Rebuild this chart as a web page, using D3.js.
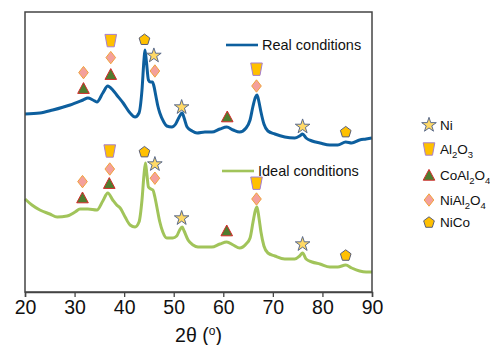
<!DOCTYPE html>
<html>
<head>
<meta charset="utf-8">
<script src="https://cdn.jsdelivr.net/npm/d3@7"></script>
<style>
  body { margin: 0; background: #fff; }
  svg { display: block; font-family: "Liberation Sans", Arial, sans-serif; }
</style>
</head>
<body>
<div id="chart"></div>
<script>
// XRD patterns, intensity in a.u.
const realPattern = [
  [20.0, 890], [23.0, 895], [25.6, 910], [29.1, 935], [31.7, 960], [32.7, 970],
  [33.7, 960], [34.5, 950], [35.7, 995], [36.7, 1030], [37.7, 1010], [38.5, 985],
  [39.8, 945], [41.2, 895], [42.2, 875], [43.0, 895], [43.6, 1010], [44.0, 1160],
  [44.2, 1210], [44.5, 1150], [44.9, 1060], [45.3, 1050], [45.7, 1050], [46.0, 1030],
  [46.4, 980], [46.8, 930], [47.2, 895], [48.0, 850], [48.6, 830], [49.6, 825],
  [50.4, 840], [51.0, 870], [51.7, 895], [52.1, 870], [52.7, 825], [53.7, 805],
  [54.7, 795], [56.3, 800], [57.7, 800], [59.3, 815], [60.7, 825], [62.0, 810],
  [63.3, 800], [64.6, 820], [65.4, 860], [66.0, 930], [66.5, 975], [66.8, 985],
  [67.2, 950], [67.6, 900], [68.2, 840], [69.0, 805], [70.4, 790], [72.4, 775],
  [74.4, 770], [75.4, 780], [76.0, 790], [76.7, 770], [77.9, 755], [79.5, 745],
  [81.5, 735], [83.1, 735], [84.7, 750], [85.9, 745], [87.5, 760], [88.8, 765],
  [90.0, 770]
];

const idealPattern = [
  [20.0, 465], [21.4, 435], [23.0, 410], [25.0, 390], [26.5, 375], [28.5, 380],
  [30.1, 400], [31.1, 415], [32.7, 415], [34.5, 410], [35.7, 455], [36.7, 495],
  [37.7, 460], [38.5, 435], [39.2, 420], [40.2, 375], [41.2, 335], [42.2, 325],
  [43.0, 350], [43.6, 460], [44.0, 585], [44.3, 645], [44.6, 585], [44.9, 525],
  [45.4, 515], [45.8, 510], [46.2, 475], [46.6, 425], [47.2, 350], [47.8, 300],
  [48.6, 270], [49.8, 270], [50.6, 280], [51.2, 310], [51.7, 325], [52.1, 305],
  [52.9, 260], [53.9, 235], [54.9, 225], [56.3, 225], [57.7, 225], [59.3, 240],
  [60.7, 250], [62.0, 235], [63.3, 220], [64.6, 240], [65.4, 270], [66.0, 350],
  [66.5, 410], [66.8, 425], [67.2, 370], [67.6, 300], [68.2, 230], [69.0, 195],
  [70.4, 180], [72.4, 165], [74.4, 165], [75.4, 180], [76.0, 195], [76.7, 165],
  [77.9, 150], [79.5, 140], [81.5, 125], [83.1, 125], [84.7, 135], [85.9, 120],
  [87.5, 105], [88.8, 100], [90.0, 100]
];

// phase markers: [phase, 2theta, intensity]
const realMarkers = [
  ['NiAl2O4', 31.8, 1097], ['CoAl2O4', 31.8, 1019],
  ['Al2O3', 37.3, 1257], ['NiAl2O4', 37.3, 1172], ['CoAl2O4', 37.3, 1089],
  ['NiCo', 44.1, 1264], ['Ni', 46.0, 1182], ['NiAl2O4', 46.2, 1105],
  ['Ni', 51.6, 924], ['CoAl2O4', 60.8, 877],
  ['Al2O3', 66.7, 1114], ['NiAl2O4', 66.7, 1030],
  ['Ni', 76.0, 827], ['NiCo', 84.7, 802]
];

const idealMarkers = [
  ['NiAl2O4', 31.6, 552], ['CoAl2O4', 31.6, 472],
  ['Al2O3', 37.1, 705], ['NiAl2O4', 37.1, 615], ['CoAl2O4', 37.0, 544],
  ['NiCo', 44.1, 702], ['Ni', 46.2, 639], ['NiAl2O4', 46.2, 569],
  ['Ni', 51.6, 369], ['CoAl2O4', 60.7, 307],
  ['Al2O3', 66.7, 544], ['NiAl2O4', 66.7, 465],
  ['Ni', 76.0, 239], ['NiCo', 84.7, 185]
];

const xTicks = [20, 30, 40, 50, 60, 70, 80, 90];
const phases = ['Ni', 'Al2O3', 'CoAl2O4', 'NiAl2O4', 'NiCo'];

const width = 490, height = 345;
const margin = { top: 12, right: 118, bottom: 53, left: 25 };
const plotW = width - margin.left - margin.right;
const plotH = height - margin.top - margin.bottom;

const x = d3.scaleLinear().domain([20, 90]).range([0, plotW]);
const y = d3.scaleLinear().domain([0, 1400]).range([plotH, 0]);

// marker shapes, centred on 0,0
const shapes = {
  Ni: { d: d3.symbol(d3.symbolStar, 66)(), fill: '#ffd966', stroke: '#5b6b8c' },
  Al2O3: { d: 'M-5.8,-6.2L5.8,-6.2L3.5,6.2L-3.5,6.2Z', fill: '#ffc000', stroke: '#a57fd1' },
  CoAl2O4: { d: 'M0,-5.6L5.8,5.2L-5.8,5.2Z', fill: '#4f7d2f', stroke: '#d42a2a' },
  NiAl2O4: { d: 'M0,-6.2L4.8,0L0,6.2L-4.8,0Z', fill: '#f4a09c', stroke: '#f0a23a' },
  NiCo: { d: d3.range(5).map(i => {
      const a = -Math.PI / 2 + i * 2 * Math.PI / 5;
      return (i ? 'L' : 'M') + (5.6 * Math.cos(a)).toFixed(2) + ',' + (5.8 * Math.sin(a) + 0.6).toFixed(2);
    }).join('') + 'Z', fill: '#ffc000', stroke: '#5a5f7a' }
};

const svg = d3.select('#chart').append('svg')
  .attr('width', width)
  .attr('height', height);

const g = svg.append('g')
  .attr('transform', `translate(${margin.left},${margin.top})`);

const line = d3.line()
  .x(d => x(d[0]))
  .y(d => y(d[1]))
  .curve(d3.curveMonotoneX);

g.append('path')
  .datum(realPattern)
  .attr('fill', 'none')
  .attr('stroke', '#0d5f9e')
  .attr('stroke-width', 3)
  .attr('stroke-linejoin', 'round')
  .attr('d', line);

g.append('path')
  .datum(idealPattern)
  .attr('fill', 'none')
  .attr('stroke', '#a1c45a')
  .attr('stroke-width', 3)
  .attr('stroke-linejoin', 'round')
  .attr('d', line);

function drawMarkers(data) {
  g.append('g').selectAll('path')
    .data(data)
    .join('path')
    .attr('transform', d => `translate(${x(d[1])},${y(d[2])})`)
    .attr('d', d => shapes[d[0]].d)
    .attr('fill', d => shapes[d[0]].fill)
    .attr('stroke', d => shapes[d[0]].stroke)
    .attr('stroke-width', 1);
}
drawMarkers(realMarkers);
drawMarkers(idealMarkers);

// frame
g.append('rect')
  .attr('width', plotW)
  .attr('height', plotH)
  .attr('fill', 'none')
  .attr('stroke', '#444')
  .attr('stroke-width', 1.5);

const xAxis = g.append('g')
  .attr('transform', `translate(0,${plotH})`)
  .call(d3.axisBottom(x).tickValues(xTicks).tickSize(5).tickPadding(3).tickFormat(d3.format('d')));
xAxis.select('.domain').attr('stroke', '#444').attr('stroke-width', 1.5);
xAxis.selectAll('.tick line').attr('stroke', '#444').attr('stroke-width', 1.3);
xAxis.selectAll('.tick text')
  .attr('fill', '#111')
  .style('font-size', '19.5px')
  .style('font-family', '"Liberation Sans", Arial, sans-serif');

const xLabel = svg.append('text')
  .attr('x', margin.left + plotW / 2)
  .attr('y', 342)
  .attr('text-anchor', 'middle')
  .attr('fill', '#111')
  .style('font-size', '19.5px');
xLabel.append('tspan').text('2θ (');
xLabel.append('tspan').attr('dy', -7).style('font-size', '12px').text('o');
xLabel.append('tspan').attr('dy', 7).text(')');

// series legend inside plot
const seriesLegend = [
  { name: 'Real conditions', color: '#0d5f9e', y: 33 },
  { name: 'Ideal conditions', color: '#a1c45a', y: 159 }
];
const sl = g.append('g').selectAll('g')
  .data(seriesLegend)
  .join('g')
  .attr('transform', (d, i) => `translate(${i ? 197 : 201},${d.y})`);
sl.append('line')
  .attr('x1', 0).attr('x2', 32)
  .attr('stroke', d => d.color)
  .attr('stroke-width', 2.6);
sl.append('text')
  .attr('x', 36)
  .attr('y', 5)
  .attr('fill', '#111')
  .style('font-size', '14.5px')
  .text(d => d.name);

// phase legend on the right
function formula(textSel, name) {
  name.split(/(\d)/).forEach(part => {
    if (!part) return;
    if (/\d/.test(part)) {
      textSel.append('tspan').attr('dy', 4).style('font-size', '9.5px').text(part);
    } else {
      const t = textSel.append('tspan').text(part);
      if (textSel.selectAll('tspan').size() > 1) t.attr('dy', -4);
    }
  });
}

const legendY = [125, 149, 175, 200, 222];
const pl = svg.append('g').selectAll('g')
  .data(phases)
  .join('g')
  .attr('transform', (d, i) => `translate(429,${legendY[i]})`);
pl.append('path')
  .attr('d', d => shapes[d].d)
  .attr('fill', d => shapes[d].fill)
  .attr('stroke', d => shapes[d].stroke)
  .attr('stroke-width', 1);
pl.append('text')
  .attr('x', 11)
  .attr('y', 4.5)
  .attr('fill', '#111')
  .style('font-size', '13.5px')
  .each(function(d) { formula(d3.select(this), d); });
</script>
</body>
</html>
